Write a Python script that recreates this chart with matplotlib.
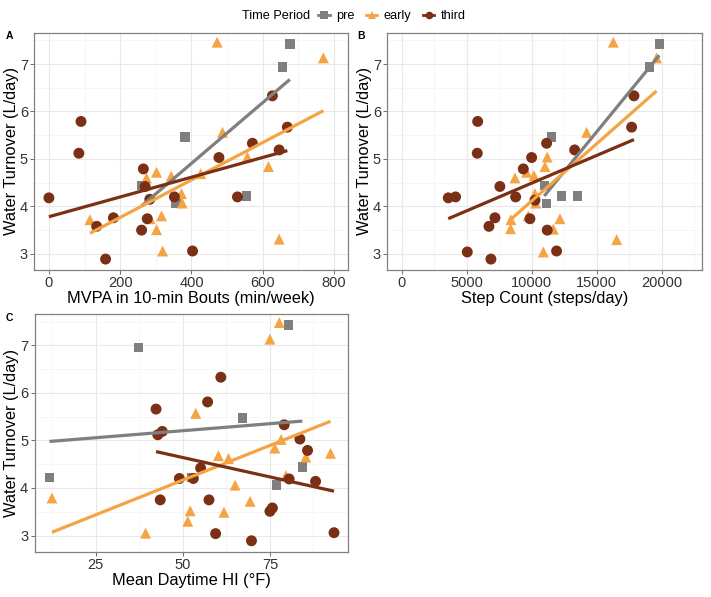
import numpy as np
import matplotlib
matplotlib.use("Agg")
import matplotlib.pyplot as plt
from matplotlib.lines import Line2D
from matplotlib.ticker import MultipleLocator

plt.rcParams['font.family'] = ['Liberation Sans', 'DejaVu Sans']

# ---------------- data ----------------
groups = ["pre", "early", "third"]
colors = {"pre": "#7F7F7F", "early": "#F4A443", "third": "#7B2F14"}
markers = {"pre": "s", "early": "^", "third": "o"}
msizes = {"pre": 46, "early": 62, "third": 62}

# Panel A: MVPA (min/week) vs water turnover (L/day)
A_pre_x = [676, 655, 382, 555, 260, 356]
A_pre_y = [7.42, 6.94, 5.46, 4.22, 4.44, 4.06]
A_early_x = [472, 770, 487, 557, 616, 302, 274, 343, 426, 372, 374, 115, 284, 316, 302, 319, 646]
A_early_y = [7.46, 7.13, 5.56, 5.04, 4.84, 4.72, 4.60, 4.64, 4.69, 4.27, 4.07, 3.72, 3.74, 3.80, 3.51, 3.06, 3.31]
A_third_x = [0, 90, 84, 134, 181, 159, 265, 270, 283, 276, 260, 352, 403, 477, 529, 571, 627, 669, 646]
A_third_y = [4.18, 5.79, 5.12, 3.58, 3.76, 2.89, 4.79, 4.42, 4.15, 3.74, 3.50, 4.20, 3.06, 5.03, 4.20, 5.33, 6.33, 5.67, 5.19]

# Panel B: step count (steps/day)
B_pre_x = [19820, 19050, 11540, 10970, 12310, 13510, 11150]
B_pre_y = [7.42, 6.94, 5.46, 4.44, 4.22, 4.22, 4.06]
B_early_x = [16280, 19610, 14230, 11200, 11030, 8720, 9615, 10180, 10310, 8410, 8380, 9740, 11670, 12180, 10900, 16540, 10250]
B_early_y = [7.46, 7.13, 5.56, 5.04, 4.84, 4.60, 4.72, 4.65, 4.07, 3.72, 3.53, 3.80, 3.52, 3.74, 3.04, 3.30, 4.27]
B_third_x = [3590, 4150, 5850, 5820, 7560, 8770, 6720, 7180, 6870, 5050, 9360, 10000, 10260, 9870, 11150, 11200, 11920, 13310, 17870, 17690]
B_third_y = [4.18, 4.20, 5.79, 5.12, 4.42, 4.20, 3.58, 3.76, 2.89, 3.04, 4.79, 5.03, 4.13, 3.74, 5.33, 3.50, 3.06, 5.19, 6.33, 5.67]

# Panel C: mean daytime heat index (°F)
C_pre_x = [11.7, 37.2, 52.5, 67.1, 80.4, 84.3, 76.9]
C_pre_y = [4.22, 6.95, 4.22, 5.47, 7.43, 4.44, 4.06]
C_early_x = [77.7, 75.0, 53.7, 60.2, 63.1, 78.2, 76.4, 85.3, 92.4, 12.4, 39.3, 51.4, 52.1, 61.8, 65.0, 69.3, 79.6]
C_early_y = [7.48, 7.13, 5.57, 4.68, 4.62, 5.02, 4.84, 4.65, 4.73, 3.79, 3.05, 3.30, 3.52, 3.49, 4.06, 3.72, 4.26]
C_third_x = [42.3, 42.8, 44.1, 60.9, 57.1, 79.1, 83.6, 85.8, 88.1, 80.5, 55.1, 49.0, 53.0, 43.5, 57.5, 75.0, 75.7, 59.4, 69.7, 93.4]
C_third_y = [5.66, 5.12, 5.19, 6.33, 5.81, 5.33, 5.03, 4.79, 4.14, 4.19, 4.42, 4.20, 4.20, 3.75, 3.75, 3.51, 3.58, 3.04, 2.89, 3.06]

xlabels = ["MVPA in 10-min Bouts (min/week)", "Step Count (steps/day)", "Mean Daytime HI (°F)"]
ylabel = "Water Turnover (L/day)"
panel_letters = ["A", "B", "C"]
legend_title = "Time Period"

panels = [
    {"pre": (A_pre_x, A_pre_y), "early": (A_early_x, A_early_y), "third": (A_third_x, A_third_y)},
    {"pre": (B_pre_x, B_pre_y), "early": (B_early_x, B_early_y), "third": (B_third_x, B_third_y)},
    {"pre": (C_pre_x, C_pre_y), "early": (C_early_x, C_early_y), "third": (C_third_x, C_third_y)},
]

# ---------------- layout ----------------
W, H = 711, 597
fig = plt.figure(figsize=(W / 100, H / 100), dpi=100)
fig.patch.set_facecolor("white")


def px_axes(l, t, r, b):
    return fig.add_axes([l / W, 1 - b / H, (r - l) / W, (b - t) / H])


boxes = [(34.3, 32.7, 348.3, 270), (387.3, 32.7, 701.7, 270), (34.5, 314, 348.3, 551.7)]
xlims = [(-41, 840), (-1100, 23080), (7.4, 97.5)]
xmajor = [200, 5000, 25]
xminor = [100, 2500, 12.5]
letter_pos = [(9, 36), (361, 36), (9, 318)]

for i, (box, data) in enumerate(zip(boxes, panels)):
    ax = px_axes(*box)
    for g in groups:
        x, y = data[g]
        ax.scatter(x, y, s=msizes[g], marker=markers[g], color=colors[g],
                   edgecolors="none", zorder=3)
    for g in groups:
        x, y = np.asarray(data[g][0], float), np.asarray(data[g][1], float)
        k, c = np.polyfit(x, y, 1)
        xs = np.array([x.min(), x.max()])
        ax.plot(xs, k * xs + c, color=colors[g], lw=2.3, solid_capstyle="butt", zorder=4)
    ax.set_xlim(*xlims[i])
    ax.set_ylim(2.66, 7.66)
    ax.xaxis.set_major_locator(MultipleLocator(xmajor[i]))
    ax.xaxis.set_minor_locator(MultipleLocator(xminor[i]))
    ax.yaxis.set_major_locator(MultipleLocator(1))
    ax.yaxis.set_minor_locator(MultipleLocator(0.5))
    ax.grid(which="major", color="#E8E8E8", lw=0.8, zorder=0)
    ax.grid(which="minor", color="#F3F3F3", lw=0.5, zorder=0)
    ax.set_axisbelow(True)
    for s in ax.spines.values():
        s.set_color("#808080")
        s.set_linewidth(0.9)
    ax.tick_params(which="major", length=3, width=0.6, color="#555555",
                   labelsize=10.5, labelcolor="#333333", pad=1.5)
    ax.tick_params(which="minor", length=0)
    ax.set_xlabel(xlabels[i], fontsize=11.8, color="black")
    ax.xaxis.set_label_coords(0.5, -0.09)
    ax.set_ylabel(ylabel, fontsize=11.8, color="black")
    ax.yaxis.set_label_coords(-0.049, 0.5)
    fig.text(letter_pos[i][0] / W, 1 - letter_pos[i][1] / H, panel_letters[i],
             fontsize=7.5, fontweight="bold", ha="center", va="center")

# ---------------- legend ----------------
fig.text(241.7 / W, 1 - 16 / H, legend_title, fontsize=9.2, ha="left", va="center")
handles = [Line2D([], [], color=colors[g], marker=markers[g], markersize=5.5,
                  lw=2.0, markeredgewidth=0) for g in groups]
fig.legend(handles, groups, loc="center left", bbox_to_anchor=(318 / W, 1 - 16 / H),
           ncol=3, frameon=False, fontsize=9.2, handlelength=0.9, handletextpad=0.5,
           columnspacing=0.9, borderpad=0, borderaxespad=0)

fig.savefig("out.png", dpi=100, facecolor="white")
